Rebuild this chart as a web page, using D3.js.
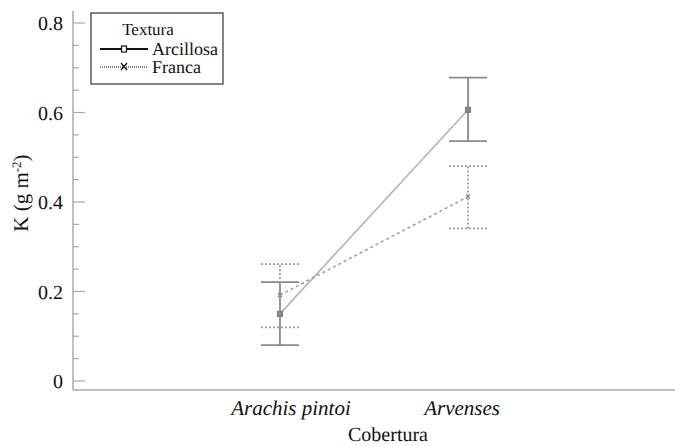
<!DOCTYPE html>
<html>
<head>
<meta charset="utf-8">
<script src="https://cdn.jsdelivr.net/npm/d3@7"></script>
<style>
  html, body { margin: 0; padding: 0; background: #fff; }
</style>
</head>
<body>
<svg id="chart" width="675" height="446"></svg>
<script>
// Cobertura categories and K means with their interval bounds per soil texture
const categories = ["Arachis pintoi", "Arvenses"];
const seriesNames = ["Arcillosa", "Franca"];
const arcillosaMean = [0.150, 0.606];
const arcillosaLow  = [0.080, 0.536];
const arcillosaHigh = [0.221, 0.678];
const francaMean = [0.192, 0.412];
const francaLow  = [0.120, 0.341];
const francaHigh = [0.261, 0.480];
const yTicks = [0, 0.2, 0.4, 0.6, 0.8];
const yMinorTicks = [0.05, 0.1, 0.15, 0.25, 0.3, 0.35, 0.45, 0.5, 0.55, 0.65, 0.7, 0.75];

const serif = "Liberation Serif";
const svg = d3.select("#chart")
  .attr("font-family", serif)
  .attr("text-rendering", "geometricPrecision");
const axisX = 73, axisY = 390, rightEdge = 675, topEdge = 11;

const x = d3.scalePoint().domain(categories).range([axisX, rightEdge]).padding(1.1);
const y = d3.scaleLinear().domain([0, 0.8]).range([381, 23]);

const axisColor = "#aaa";
const textColor = "#111";

// helper for serif text
function label(parent, size) {
  return parent.append("text")
    .attr("font-family", serif)
    .attr("text-rendering", "geometricPrecision")
    .attr("font-size", size)
    .attr("fill", textColor);
}

// axes lines
svg.append("line").attr("x1", axisX).attr("x2", axisX).attr("y1", topEdge).attr("y2", axisY)
  .attr("stroke", axisColor).attr("stroke-width", 1.5);
svg.append("line").attr("x1", axisX).attr("x2", rightEdge).attr("y1", axisY).attr("y2", axisY)
  .attr("stroke", axisColor).attr("stroke-width", 1.5);

// y ticks (drawn inward)
const yAxis = svg.append("g");
yAxis.selectAll("line.major").data(yTicks).join("line")
  .attr("class", "major")
  .attr("x1", axisX).attr("x2", axisX + 12)
  .attr("y1", d => y(d)).attr("y2", d => y(d))
  .attr("stroke", axisColor).attr("stroke-width", 1.2);
yAxis.selectAll("line.minor").data(yMinorTicks).join("line")
  .attr("class", "minor")
  .attr("x1", axisX).attr("x2", axisX + 6)
  .attr("y1", d => y(d)).attr("y2", d => y(d))
  .attr("stroke", axisColor).attr("stroke-width", 1.2);
yTicks.forEach(d => {
  label(yAxis, 20)
    .attr("x", axisX - 10).attr("y", y(d)).attr("dy", "0.35em")
    .attr("text-anchor", "end")
    .text(d === 0 ? "0" : d3.format(".1f")(d));
});

// y axis title
const yt = label(svg, 21)
  .attr("transform", `translate(28,${y(0.42)}) rotate(-90)`)
  .attr("text-anchor", "middle");
yt.append("tspan").text("K (g m");
yt.append("tspan").attr("font-size", 13).attr("dy", -7).text("-2");
yt.append("tspan").attr("dy", 7).text(")");

// category labels
const catShift = [11, -6];
categories.forEach((c, i) => {
  label(svg, 21)
    .attr("x", x(c) + catShift[i]).attr("y", 415)
    .attr("text-anchor", "middle").attr("font-style", "italic")
    .text(c);
});
label(svg, 20).attr("x", 388).attr("y", 441)
  .attr("text-anchor", "middle").text("Cobertura");

const series = [
  { name: seriesNames[0], mean: arcillosaMean, low: arcillosaLow, high: arcillosaHigh,
    dash: null, barDash: null, lineColor: "#b4b4b4", barColor: "#8a8a8a", marker: "square" },
  { name: seriesNames[1], mean: francaMean, low: francaLow, high: francaHigh,
    dash: "3,3", barDash: "2,2", lineColor: "#a0a0a0", barColor: "#9a9a9a", marker: "cross" }
];

const capHalf = 19;
series.forEach(s => {
  const g = svg.append("g");
  // error bars
  categories.forEach((c, i) => {
    const cx = x(c);
    g.append("line").attr("x1", cx).attr("x2", cx).attr("y1", y(s.low[i])).attr("y2", y(s.high[i]))
      .attr("stroke", s.barColor).attr("stroke-width", 1.8).attr("stroke-dasharray", s.barDash);
    [s.low[i], s.high[i]].forEach(v => {
      g.append("line").attr("x1", cx - capHalf).attr("x2", cx + capHalf).attr("y1", y(v)).attr("y2", y(v))
        .attr("stroke", s.barColor).attr("stroke-width", 1.8).attr("stroke-dasharray", s.barDash);
    });
  });
  // connecting line
  const line = d3.line().x((d, i) => x(categories[i])).y(d => y(d));
  g.append("path").attr("d", line(s.mean)).attr("fill", "none")
    .attr("stroke", s.lineColor).attr("stroke-width", 1.6).attr("stroke-dasharray", s.dash);
  // markers
  categories.forEach((c, i) => {
    const cx = x(c), cy = y(s.mean[i]);
    if (s.marker === "square") {
      g.append("rect").attr("x", cx - 2.5).attr("y", cy - 2.5).attr("width", 5).attr("height", 5)
        .attr("fill", "#888").attr("stroke", "#777").attr("stroke-width", 1);
    } else {
      g.append("path").attr("d", `M${cx - 2},${cy - 2}L${cx + 2},${cy + 2}M${cx - 2},${cy + 2}L${cx + 2},${cy - 2}`)
        .attr("stroke", "#888").attr("stroke-width", 1.3);
    }
  });
});

// legend
const lg = svg.append("g");
lg.append("rect").attr("x", 91).attr("y", 13).attr("width", 132).attr("height", 71)
  .attr("fill", "#fff").attr("stroke", "#333").attr("stroke-width", 1.2);
label(lg, 17).attr("x", 148).attr("y", 35).attr("text-anchor", "middle").text("Textura");
const legendRows = [
  { name: seriesNames[0], y: 49, dash: null, width: 2, marker: "square" },
  { name: seriesNames[1], y: 67, dash: "1,1", width: 1.2, marker: "cross" }
];
legendRows.forEach(r => {
  lg.append("line").attr("x1", 100).attr("x2", 148).attr("y1", r.y).attr("y2", r.y)
    .attr("stroke", "#111").attr("stroke-width", r.width).attr("stroke-dasharray", r.dash);
  if (r.marker === "square") {
    lg.append("rect").attr("x", 121.5).attr("y", r.y - 3).attr("width", 5).attr("height", 6)
      .attr("fill", "#fff").attr("stroke", "#111").attr("stroke-width", 1.2);
  } else {
    lg.append("path").attr("d", `M121,${r.y - 4}L127,${r.y + 3}M121,${r.y + 3}L127,${r.y - 4}`)
      .attr("stroke", "#111").attr("stroke-width", 1.2);
  }
  label(lg, 18).attr("x", 152).attr("y", r.y).attr("dy", "0.35em").text(r.name);
});
</script>
</body>
</html>
